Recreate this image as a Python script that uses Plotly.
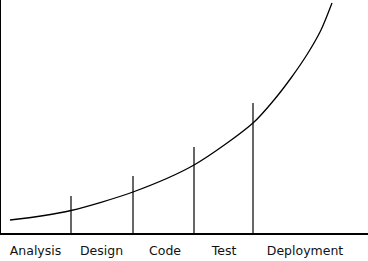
import plotly.graph_objects as go

# Phases and label positions (x in chart units)
phases = ["Analysis", "Design", "Code", "Test", "Deployment"]
label_x = [34.5, 100.5, 164, 223, 304]

# Phase boundary markers
boundary_x = [70, 132, 193, 252]
boundary_h = [37, 57, 86, 130]

# Cost curve
curve_x = [9, 40, 70, 132, 193, 252, 273, 290, 307, 320, 331]
curve_y = [13, 17, 22.5, 41, 68, 110, 133, 155, 180, 203, 230]

vx, vy = [], []
for bx, bh in zip(boundary_x, boundary_h):
    vx += [bx, bx, None]
    vy += [0, bh, None]

fig = go.Figure()
fig.add_trace(go.Scatter(x=vx, y=vy, mode="lines",
                         line=dict(color="black", width=1.2),
                         hoverinfo="skip", showlegend=False))
fig.add_trace(go.Scatter(x=curve_x, y=curve_y, mode="lines",
                         line=dict(color="black", width=1.3, shape="spline", smoothing=0.8),
                         hoverinfo="skip", showlegend=False))

fig.update_layout(
    width=368, height=261,
    margin=dict(l=1, r=0, t=0, b=28),
    paper_bgcolor="white", plot_bgcolor="white",
    showlegend=False,
    xaxis=dict(range=[0, 367], showgrid=False, zeroline=False,
               showline=True, linecolor="black", linewidth=2,
               tickvals=label_x, ticktext=phases, ticks="",
               ticklabelstandoff=5,
               tickfont=dict(family="DejaVu Sans", size=12.5, color="#111"),
               fixedrange=True),
    yaxis=dict(range=[0, 233], showgrid=False, zeroline=False,
               showline=True, linecolor="black", linewidth=2,
               showticklabels=False, ticks="", fixedrange=True),
)
fig.write_html("out.html")
